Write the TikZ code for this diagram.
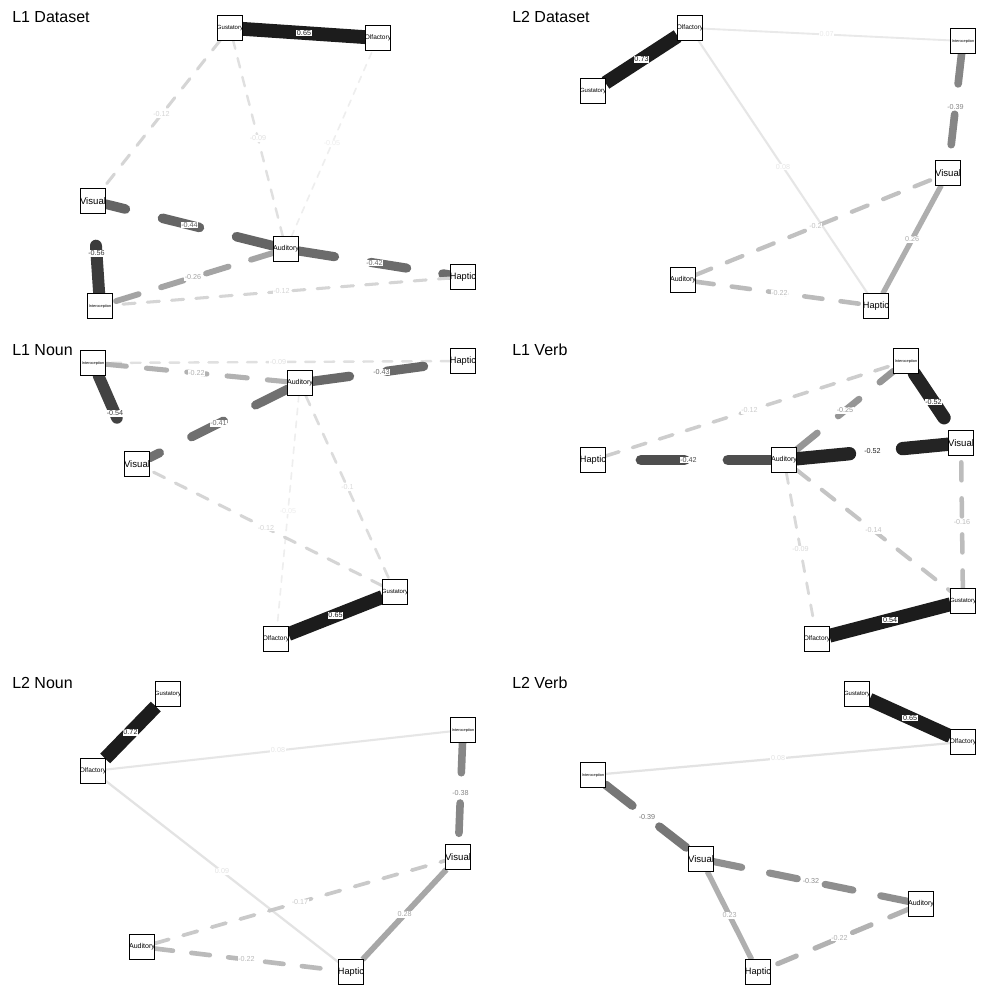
\documentclass[tikz,border=0pt]{standalone}
\usepackage{fontspec}
\setmainfont{Liberation Sans}
\pgfdeclarelayer{edgelayer}
\pgfdeclarelayer{labellayer}
\pgfsetlayers{edgelayer,labellayer,main}
\tikzset{
  box/.style={draw=black, line width=0.75pt, fill=white, rectangle, minimum size=18.75pt, inner sep=0pt, outer sep=0pt},
  ttl/.style={anchor=base west, inner sep=0pt, font=\fontsize{12}{14}\selectfont},
  elab/.style={fill=white, inner sep=0.4pt, font=\fontsize{5.4}{6}\selectfont},
}
% node: name, position, font size, text
\newcommand\sensebox[4]{\node[box] (#1) at (#2) {\makebox[0pt]{\fontsize{#3}{#3}\selectfont #4}};}
% edge: from, to, ratio |w|/max, d(ashed)/s(olid), label
\newcommand\edg[5]{%
  \pgfmathsetmacro\edgW{0.75*(0.6+13.2*#3)}%
  \pgfmathsetmacro\edgC{89*#3}%
  \pgfmathsetmacro\edgD{4*\edgW}%
  \begin{pgfonlayer}{edgelayer}
  \if#4d
    \draw[line width=\edgW pt, draw=black!\edgC, line cap=round, dash pattern=on \edgD pt off \edgD pt] (#1) -- (#2);
  \else
    \draw[line width=\edgW pt, draw=black!\edgC] (#1) -- (#2);
  \fi
  \end{pgfonlayer}
  \begin{pgfonlayer}{labellayer}
  \path (#1) -- (#2) node[elab, text=black!\edgC, midway] (#1#2) {#5};
  \end{pgfonlayer}
}
\begin{document}
\begin{tikzpicture}[x=0.75pt,y=-0.75pt]
\useasboundingbox (0,0) rectangle (1000,1000);
\begin{pgfonlayer}{edgelayer}
\fill[white] (0,0) rectangle (1000,1000);
\end{pgfonlayer}

% titles
\node[ttl] (t1) at (12,22) {L1 Dataset};
\node[ttl] (t2) at (512,22) {L2 Dataset};
\node[ttl] (t3) at (12,355) {L1 Noun};
\node[ttl] (t4) at (512,355) {L1 Verb};
\node[ttl] (t5) at (12,688) {L2 Noun};
\node[ttl] (t6) at (512,688) {L2 Verb};

% ---------- L1 Dataset
\sensebox{aG}{230,28}{4.5}{Gustatory}
\sensebox{aO}{378,38}{4.9}{Olfactory}
\sensebox{aV}{93,201}{7.2}{Visual}
\sensebox{aA}{286,249}{5.3}{Auditory}
\sensebox{aH}{463,277}{6.9}{Haptic}
\sensebox{aI}{100,306}{2.9}{Interoception}
\edg{aA}{aG}{0.138}{d}{-0.09}
\edg{aA}{aO}{0.077}{d}{-0.05}
\edg{aA}{aV}{0.677}{d}{-0.44}
\edg{aA}{aH}{0.646}{d}{-0.42}
\edg{aA}{aI}{0.4}{d}{-0.26}
\edg{aG}{aO}{1}{s}{0.65}
\edg{aG}{aV}{0.185}{d}{-0.12}
\edg{aH}{aI}{0.185}{d}{-0.12}
\edg{aI}{aV}{0.862}{d}{-0.56}

% ---------- L2 Dataset
\sensebox{bO}{690,28}{4.9}{Olfactory}
\sensebox{bG}{593,91}{4.5}{Gustatory}
\sensebox{bI}{963,41}{2.9}{Interoception}
\sensebox{bV}{948,173}{7.2}{Visual}
\sensebox{bA}{683,280}{5.3}{Auditory}
\sensebox{bH}{876,306}{6.9}{Haptic}
\edg{bG}{bO}{1}{s}{0.73}
\edg{bI}{bO}{0.096}{s}{0.07}
\edg{bH}{bO}{0.11}{s}{0.08}
\edg{bI}{bV}{0.534}{d}{-0.39}
\edg{bA}{bV}{0.274}{d}{-0.2}
\edg{bH}{bV}{0.356}{s}{0.26}
\edg{bA}{bH}{0.301}{d}{-0.22}

% ---------- L1 Noun
\sensebox{cI}{93,363}{2.9}{Interoception}
\sensebox{cH}{463,361}{6.9}{Haptic}
\sensebox{cA}{300,383}{5.3}{Auditory}
\sensebox{cV}{137,464}{7.2}{Visual}
\sensebox{cG}{395,592}{4.5}{Gustatory}
\sensebox{cO}{276,639}{4.9}{Olfactory}
\edg{cH}{cI}{0.138}{d}{-0.09}
\edg{cA}{cI}{0.338}{d}{-0.22}
\edg{cI}{cV}{0.831}{d}{-0.54}
\edg{cA}{cV}{0.631}{d}{-0.41}
\edg{cA}{cH}{0.662}{d}{-0.43}
\edg{cA}{cG}{0.154}{d}{-0.1}
\edg{cA}{cO}{0.077}{d}{-0.05}
\edg{cG}{cV}{0.185}{d}{-0.12}
\edg{cG}{cO}{1}{s}{0.65}

% ---------- L1 Verb
\sensebox{dI}{906,361}{2.9}{Interoception}
\sensebox{dH}{593,460}{6.9}{Haptic}
\sensebox{dA}{784,460}{5.3}{Auditory}
\sensebox{dV}{961,443}{7.2}{Visual}
\sensebox{dG}{963,601}{4.5}{Gustatory}
\sensebox{dO}{817,639}{4.9}{Olfactory}
\edg{dH}{dI}{0.222}{d}{-0.12}
\edg{dA}{dI}{0.463}{d}{-0.25}
\edg{dI}{dV}{0.963}{d}{-0.52}
\edg{dA}{dH}{0.778}{d}{-0.42}
\edg{dA}{dV}{0.963}{d}{-0.52}
\edg{dA}{dG}{0.259}{d}{-0.14}
\edg{dA}{dO}{0.167}{d}{-0.09}
\edg{dG}{dV}{0.296}{d}{-0.16}
\edg{dG}{dO}{1}{s}{0.54}

% ---------- L2 Noun
\sensebox{eG}{168,694}{4.5}{Gustatory}
\sensebox{eI}{463,730}{2.9}{Interoception}
\sensebox{eO}{93,771}{4.9}{Olfactory}
\sensebox{eV}{458,857}{7.2}{Visual}
\sensebox{eA}{142,947}{5.3}{Auditory}
\sensebox{eH}{351,972}{6.9}{Haptic}
\edg{eG}{eO}{1}{s}{0.72}
\edg{eI}{eO}{0.111}{s}{0.08}
\edg{eH}{eO}{0.125}{s}{0.09}
\edg{eI}{eV}{0.528}{d}{-0.38}
\edg{eA}{eV}{0.236}{d}{-0.17}
\edg{eH}{eV}{0.389}{s}{0.28}
\edg{eA}{eH}{0.306}{d}{-0.22}

% ---------- L2 Verb
\sensebox{fG}{857,694}{4.5}{Gustatory}
\sensebox{fO}{963,742}{4.9}{Olfactory}
\sensebox{fI}{593,775}{2.9}{Interoception}
\sensebox{fV}{701,859}{7.2}{Visual}
\sensebox{fA}{921,904}{5.3}{Auditory}
\sensebox{fH}{758,972}{6.9}{Haptic}
\edg{fG}{fO}{1}{s}{0.65}
\edg{fI}{fO}{0.123}{s}{0.08}
\edg{fI}{fV}{0.6}{d}{-0.39}
\edg{fA}{fV}{0.492}{d}{-0.32}
\edg{fH}{fV}{0.354}{s}{0.23}
\edg{fA}{fH}{0.338}{d}{-0.22}
\end{tikzpicture}
\end{document}
